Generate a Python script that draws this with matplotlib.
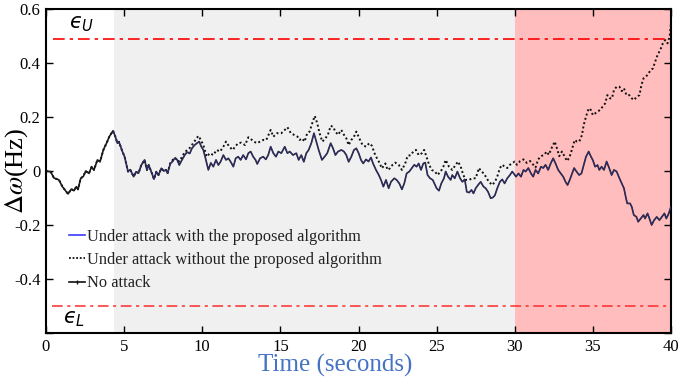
import matplotlib
matplotlib.use("Agg")
import matplotlib.pyplot as plt
from matplotlib.lines import Line2D
import numpy as np

# ---- datos ----
# tramo inicial comun a las tres curvas (antes de que se separen)
t_comun = [0, 0.3, 0.51, 0.83, 1.05, 1.41, 1.62, 1.79, 1.94, 2.05, 2.22, 2.39, 2.54, 2.75,
           2.92, 3.07, 3.29, 3.46, 3.67, 3.92, 4.05, 4.29, 4.42, 4.57, 4.67, 4.89, 5.03,
           5.25, 5.39, 5.61, 5.76, 5.92, 6.1, 6.31, 6.46, 6.57, 6.78, 6.91, 7.06, 7.2,
           7.38, 7.53, 7.68, 7.78]
v_comun = [0, -0.003, -0.026, -0.033, -0.058, -0.085, -0.067, -0.073, -0.058, -0.068,
           -0.027, -0.02, 0.0, -0.009, 0.016, 0.004, 0.041, 0.035, 0.078, 0.109, 0.127,
           0.149, 0.13, 0.103, 0.108, 0.072, 0.053, -0.002, 0.005, -0.021, -0.003, -0.008,
           0.022, 0.041, 0.004, 0.022, -0.009, -0.03, -0.003, -0.015, 0.01, 0.0, 0.004,
           -0.008]

# sin ataque (y con el algoritmo propuesto, que coincide)
t_sin_ataque = [7.96, 8.1, 8.23, 8.38, 8.53, 8.7, 8.88, 9.02, 9.2, 9.34, 9.51, 9.66, 9.81,
                9.94, 10.07, 10.2, 10.39, 10.55, 10.71, 10.88, 11.03, 11.17, 11.35, 11.52,
                11.67, 11.82, 11.99, 12.14, 12.3, 12.46, 12.62, 12.8, 12.95, 13.1, 13.26,
                13.41, 13.52, 13.7, 13.9, 14.07, 14.22, 14.38, 14.55, 14.72, 14.87, 15.06,
                15.28, 15.45, 15.6, 15.81, 16.02, 16.17, 16.34, 16.5, 16.66, 16.81, 16.98,
                17.15, 17.3, 17.45, 17.66, 17.83, 18.0, 18.22, 18.37, 18.52, 18.69, 18.9,
                19.07, 19.22, 19.37, 19.54, 19.71, 19.86, 20.01, 20.16, 20.3, 20.48, 20.64,
                20.8, 20.93, 21.12, 21.3, 21.44, 21.59, 21.76, 21.93, 22.08, 22.29, 22.44,
                22.61, 22.78, 22.93, 23.08, 23.25, 23.42, 23.57, 23.72, 23.85, 24.0, 24.15,
                24.27, 24.42, 24.58, 24.75, 25.0, 25.15, 25.3, 25.47, 25.58, 25.73, 25.9,
                26.0, 26.16, 26.33, 26.5, 26.65, 26.8, 26.93, 27.08, 27.23, 27.36, 27.5,
                27.65, 27.82, 28.0, 28.14, 28.29, 28.46, 28.6, 28.73, 28.88, 29.05, 29.2,
                29.35, 29.52, 29.69, 29.84, 30.08, 30.24, 30.4, 30.56, 30.7, 30.87, 31.04,
                31.18, 31.33, 31.5, 31.68, 31.82, 31.97, 32.14, 32.3, 32.46, 32.61, 32.78,
                32.95, 33.1, 33.25, 33.38, 33.52, 33.67, 33.8, 33.95, 34.12, 34.27, 34.42,
                34.56, 34.73, 34.88, 35.0, 35.14, 35.3, 35.41, 35.56, 35.71, 35.88, 36.05,
                36.2, 36.35, 36.52, 36.7, 36.85, 36.99, 37.12, 37.2, 37.38, 37.49, 37.62,
                37.79, 37.9, 38.06, 38.24, 38.34, 38.5, 38.62, 38.76, 38.92, 39.09, 39.26,
                39.41, 39.58, 39.7, 39.86, 40.0]
v_sin_ataque = [0.028, 0.035, 0.047, 0.043, 0.022, 0.041, 0.059, 0.07, 0.065, 0.084, 0.096,
                0.103, 0.109, 0.09, 0.078, 0.049, 0.004, 0.03, 0.016, 0.041, 0.022, 0.034,
                0.059, 0.041, 0.047, 0.034, 0.016, 0.047, 0.053, 0.041, 0.059, 0.043, 0.066,
                0.072, 0.053, 0.041, 0.026, 0.047, 0.053, 0.043, 0.059, 0.09, 0.066, 0.053,
                0.072, 0.066, 0.09, 0.066, 0.072, 0.059, 0.066, 0.041, 0.059, 0.034, 0.066,
                0.078, 0.103, 0.14, 0.109, 0.078, 0.041, 0.053, 0.066, 0.103, 0.084, 0.059,
                0.072, 0.078, 0.072, 0.059, 0.034, 0.053, 0.078, 0.084, 0.066, 0.041, 0.028,
                0.043, 0.035, 0.05, 0.028, 0.004, -0.015, -0.033, -0.058, -0.033, -0.064,
                -0.04, -0.027, -0.033, -0.046, -0.068, -0.046, -0.009, -0.002, 0.011, 0.023,
                0.016, 0.028, 0.004, 0.028, 0.031, -0.015, -0.027, -0.033, -0.064, -0.073,
                -0.046, -0.027, -0.002, -0.021, -0.033, -0.015, -0.027, -0.002, -0.027, -0.04,
                -0.031, -0.077, -0.08, -0.07, -0.083, -0.064, -0.052, -0.04, -0.058, -0.064,
                -0.077, -0.101, -0.098, -0.09, -0.064, -0.04, -0.031, -0.046, -0.027, -0.015,
                -0.002, -0.021, -0.009, -0.021, 0.004, -0.002, 0.011, -0.009, -0.021, 0.004,
                -0.009, 0.016, 0.011, 0.023, 0.004, 0.028, 0.047, 0.028, 0.004, -0.009,
                -0.021, -0.04, -0.052, -0.033, -0.009, 0.011, -0.002, -0.015, -0.009, 0.023,
                0.053, 0.072, 0.053, 0.04, 0.016, 0.022, 0.004, 0.016, 0.004, 0.035, 0.01,
                -0.015, 0.004, -0.002, -0.027, -0.046, -0.064, -0.101, -0.12, -0.12, -0.133,
                -0.163, -0.17, -0.188, -0.176, -0.163, -0.176, -0.157, -0.176, -0.2, -0.182,
                -0.17, -0.182, -0.17, -0.157, -0.176, -0.157, -0.132]

# bajo ataque sin el algoritmo propuesto
t_sin_alg = [7.96, 8.23, 8.53, 8.88, 9.2, 9.51, 9.75, 9.86, 10.07, 10.28, 10.49, 10.71, 10.92,
             11.14, 11.35, 11.52, 11.73, 11.95, 12.1, 12.3, 12.5, 12.74, 12.95, 13.18, 13.3,
             13.5, 13.7, 13.9, 14.1, 14.38, 14.55, 14.78, 15.06, 15.28, 15.45, 15.67, 15.87,
             16.1, 16.23, 16.38, 16.55, 16.72, 16.87, 17.04, 17.2, 17.36, 17.51, 17.68, 17.83,
             18.04, 18.22, 18.37, 18.52, 18.69, 18.9, 19.07, 19.22, 19.37, 19.54, 19.71, 19.86,
             20.05, 20.26, 20.48, 20.69, 20.86, 21.07, 21.3, 21.5, 21.72, 21.86, 22.01, 22.18,
             22.35, 22.57, 22.78, 22.99, 23.14, 23.36, 23.5, 23.68, 23.85, 24.06, 24.2, 24.35,
             24.52, 24.69, 24.9, 25.05, 25.26, 25.43, 25.58, 25.79, 26.0, 26.22, 26.37, 26.54,
             26.71, 26.86, 27.07, 27.28, 27.5, 27.71, 27.86, 28.03, 28.2, 28.35, 28.56, 28.73,
             28.88, 29.05, 29.2, 29.35, 29.52, 29.69, 29.84, 29.99, 30.14, 30.35, 30.56, 30.77,
             30.98, 31.18, 31.33, 31.5, 31.68, 31.89, 32.04, 32.18, 32.35, 32.56, 32.7, 32.85,
             33.02, 33.18, 33.34, 33.5, 33.65, 33.84, 33.98, 34.13, 34.3, 34.41, 34.56, 34.73,
             34.87, 35.0, 35.14, 35.3, 35.46, 35.62, 35.78, 35.93, 36.1, 36.22, 36.35, 36.52,
             36.7, 36.85, 36.99, 37.15, 37.33, 37.49, 37.63, 37.81, 37.98, 38.11, 38.24, 38.41,
             38.56, 38.71, 38.84, 38.99, 39.14, 39.31, 39.48, 39.63, 39.78, 39.91, 40.0]
v_sin_alg = [0.03, 0.05, 0.035, 0.07, 0.085, 0.11, 0.13, 0.12, 0.096, 0.053, 0.066, 0.059,
             0.078, 0.072, 0.09, 0.109, 0.09, 0.078, 0.09, 0.103, 0.105, 0.096, 0.125, 0.115,
             0.109, 0.103, 0.109, 0.115, 0.115, 0.152, 0.127, 0.14, 0.14, 0.152, 0.162, 0.14,
             0.134, 0.127, 0.115, 0.121, 0.109, 0.14, 0.146, 0.177, 0.204, 0.177, 0.14, 0.109,
             0.117, 0.134, 0.167, 0.164, 0.146, 0.134, 0.152, 0.134, 0.121, 0.096, 0.115,
             0.127, 0.146, 0.121, 0.096, 0.09, 0.103, 0.093, 0.059, 0.035, 0.01, 0.028, 0.004,
             0.01, 0.023, 0.031, 0.023, 0.004, 0.028, 0.056, 0.059, 0.072, 0.078, 0.059, 0.066,
             0.078, 0.053, 0.023, 0.004, -0.002, -0.015, -0.002, 0.016, 0.041, 0.016, 0.004,
             0.023, 0.035, 0.016, -0.015, -0.033, -0.033, -0.027, -0.027, 0.011, -0.002,
             -0.009, -0.027, -0.04, -0.052, -0.04, -0.021, 0.011, 0.023, 0.016, 0.011, 0.023,
             0.028, 0.035, 0.023, 0.037, 0.043, 0.03, 0.037, 0.023, 0.013, 0.043, 0.055, 0.06,
             0.072, 0.06, 0.084, 0.109, 0.084, 0.055, 0.072, 0.055, 0.037, 0.05, 0.078, 0.115,
             0.109, 0.109, 0.133, 0.17, 0.201, 0.232, 0.226, 0.207, 0.213, 0.22, 0.226, 0.238,
             0.25, 0.281, 0.269, 0.269, 0.3, 0.312, 0.312, 0.296, 0.306, 0.281, 0.281, 0.269,
             0.263, 0.275, 0.281, 0.319, 0.343, 0.35, 0.362, 0.374, 0.38, 0.405, 0.43, 0.448,
             0.473, 0.485, 0.473, 0.497, 0.55]

inicio_ataque = 4.35
inicio_fase2 = 30
fin = 40
eps_sup = 0.49
eps_inf = -0.5

etiquetas = ["Under attack with the proposed algorithm",
             "Under attack without the proposed algorithm",
             "No attack"]

plt.rcParams['font.family'] = ['Liberation Serif', 'DejaVu Serif']
plt.rcParams['mathtext.fontset'] = 'stix'

t_na = np.array(t_comun + t_sin_ataque)
v_na = np.array(v_comun + v_sin_ataque)
t_sa = np.array(t_comun + t_sin_alg)
v_sa = np.array(v_comun + v_sin_alg)
con_alg = t_na >= 4.29

fig = plt.figure(figsize=(6.79, 3.84), dpi=100)
ax = fig.add_axes([46 / 679, 1 - 333 / 384, 625 / 679, 324 / 384])

ax.axvspan(inicio_ataque, inicio_fase2, color='#f0f0f0', lw=0, zorder=0)
ax.axvspan(inicio_fase2, fin, color='#ffbdbd', lw=0, zorder=0)

ax.hlines(eps_sup, 0.45, fin, colors='#ff0000', linestyles=(0, (7, 3, 2, 3)), lw=1.2, zorder=2)
ax.hlines(eps_inf, 0.4, fin, colors='#ff2a2a', linestyles=(0, (7, 3, 2, 3)), lw=1.1, zorder=2)

ax.plot(t_sa, v_sa, color='#111111', ls=(0, (1, 1.3)), lw=1.4, zorder=3)
ax.plot(t_na, v_na, color='#1a1a1a', lw=1.2, zorder=4)
ax.plot(t_na[con_alg], v_na[con_alg], color='#4a4aff', lw=0.6, alpha=0.45, zorder=5)

ax.text(1.5, 0.545, '$\u03f5_U$', fontsize=15, va='center', ha='left',
        math_fontfamily='dejavusans')
ax.text(1.1, -0.548, '$\u03f5_L$', fontsize=15, va='center', ha='left',
        math_fontfamily='dejavusans')

ax.set_xlim(0, fin)
ax.set_ylim(-0.6, 0.6)
ax.set_xticks(np.arange(0, 41, 5))
ax.set_xticklabels([str(x) for x in range(0, 41, 5)])
ax.set_yticks([-0.6, -0.4, -0.2, 0, 0.2, 0.4, 0.6])
ax.set_yticklabels(['', '-0.4', '-0.2', '0', '0.2', '0.4', '0.6'])
ax.tick_params(direction='in', top=True, right=True, length=5, width=1, labelsize=12,
               pad=4)
for s in ax.spines.values():
    s.set_linewidth(1.5)

ax.set_xlabel('Time (seconds)', fontsize=18, color='#4472c4')
ax.xaxis.set_label_coords(0.462, -0.066)
ax.set_ylabel(r'$\Delta\omega$(Hz)', fontsize=19)
ax.yaxis.set_label_coords(-0.026, 0.5)

handles = [Line2D([], [], color='#3a3aff', lw=1.2),
           Line2D([], [], color='#111111', ls=(0, (1, 1)), lw=1.3),
           Line2D([], [], color='#111111', lw=1.2, marker='|', markersize=3)]
ax.legend(handles, etiquetas, loc='upper left', bbox_to_anchor=(0.036, 0.322),
          frameon=False, fontsize=11.8, handlelength=1.0, handletextpad=0.1,
          labelspacing=0.45, borderpad=0, borderaxespad=0, labelcolor='#222222')

fig.savefig('out.png', dpi=100)
